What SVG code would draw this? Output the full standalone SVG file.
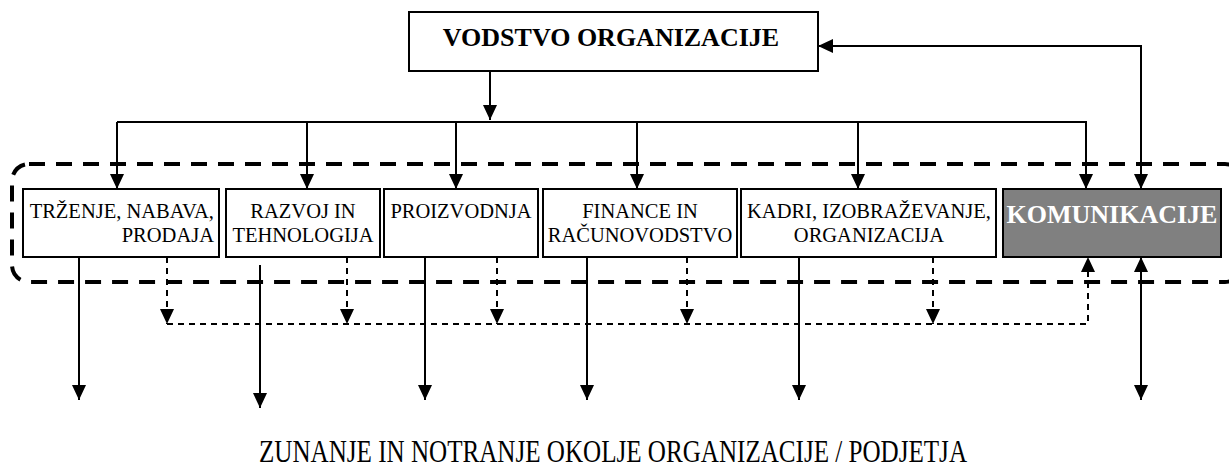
<svg xmlns="http://www.w3.org/2000/svg" width="1229" height="470" viewBox="0 0 1229 470">
<defs>
<marker id="ah" markerUnits="userSpaceOnUse" markerWidth="15" markerHeight="14" refX="15" refY="7" orient="auto-start-reverse" viewBox="0 0 15 14">
<path d="M0,0 L15,7 L0,14 z" fill="#000"/>
</marker>
<style>
.box{fill:#fff;stroke:#000;stroke-width:2}
.dark{fill:#808080;stroke:#000;stroke-width:2}
.t{font-size:20.5px;fill:#000}
.tb{font-size:26px;font-weight:bold}
.ln{fill:none;stroke:#000;stroke-width:2}
.dl{fill:none;stroke:#000;stroke-width:2;stroke-dasharray:6 5}
.frame{fill:none;stroke:#000;stroke-width:4;stroke-dasharray:16 11}
</style>
</defs>
<rect class="frame" x="12" y="164" width="1230" height="118" rx="17" ry="17"/>
<g id="vodstvo">
<rect class="box" x="409" y="12" width="409" height="59"/>
<text class="tb" font-family="'Liberation Serif', serif" x="611" y="46" text-anchor="middle" fill="#000">VODSTVO ORGANIZACIJE</text>
</g>
<g id="trzenje">
<rect class="box" x="23" y="189" width="196" height="68"/>
<text class="t" font-family="'Liberation Serif', serif" text-anchor="end"><tspan x="214" y="218">TRŽENJE, NABAVA,</tspan><tspan x="214" y="242">PRODAJA</tspan></text>
</g>
<g id="razvoj">
<rect class="box" x="226" y="189" width="154" height="68"/>
<text class="t" font-family="'Liberation Serif', serif" text-anchor="middle"><tspan x="303" y="218">RAZVOJ IN</tspan><tspan x="303" y="242">TEHNOLOGIJA</tspan></text>
</g>
<g id="proizvodnja">
<rect class="box" x="384" y="189" width="154" height="68"/>
<text class="t" font-family="'Liberation Serif', serif" x="461" y="218" text-anchor="middle">PROIZVODNJA</text>
</g>
<g id="finance">
<rect class="box" x="543" y="189" width="194" height="68"/>
<text class="t" font-family="'Liberation Serif', serif" text-anchor="middle"><tspan x="640" y="218">FINANCE IN</tspan><tspan x="640" y="242">RAČUNOVODSTVO</tspan></text>
</g>
<g id="kadri">
<rect class="box" x="741" y="189" width="255" height="68"/>
<text class="t" font-family="'Liberation Serif', serif" text-anchor="middle"><tspan x="869" y="218">KADRI, IZOBRAŽEVANJE,</tspan><tspan x="869" y="242">ORGANIZACIJA</tspan></text>
</g>
<g id="komunikacije">
<rect class="dark" x="1003" y="189" width="218" height="68"/>
<text class="tb" font-family="'Liberation Serif', serif" x="1112" y="223" text-anchor="middle" fill="#fff">KOMUNIKACIJE</text>
</g>
<g id="connectors">
<path class="ln" d="M490,71 V120" marker-end="url(#ah)"/>
<path class="ln" d="M117,122 H1086"/>
<path class="ln" d="M117,122 V189" marker-end="url(#ah)"/>
<path class="ln" d="M307,122 V189" marker-end="url(#ah)"/>
<path class="ln" d="M456,122 V189" marker-end="url(#ah)"/>
<path class="ln" d="M637,122 V189" marker-end="url(#ah)"/>
<path class="ln" d="M858,122 V189" marker-end="url(#ah)"/>
<path class="ln" d="M1086,121 V189" marker-end="url(#ah)"/>
<path class="ln" d="M1141,189 V46 H818" marker-start="url(#ah)" marker-end="url(#ah)"/>
<path class="ln" d="M79,257 V400" marker-end="url(#ah)"/>
<path class="ln" d="M260,265 V408" marker-end="url(#ah)"/>
<path class="ln" d="M425,257 V400" marker-end="url(#ah)"/>
<path class="ln" d="M587,257 V400" marker-end="url(#ah)"/>
<path class="ln" d="M799,257 V400" marker-end="url(#ah)"/>
<path class="ln" d="M1141,257 V400" marker-start="url(#ah)" marker-end="url(#ah)"/>
<path class="dl" d="M167,257 V324" marker-end="url(#ah)"/>
<path class="dl" d="M347,257 V324" marker-end="url(#ah)"/>
<path class="dl" d="M497,257 V324" marker-end="url(#ah)"/>
<path class="dl" d="M687,257 V324" marker-end="url(#ah)"/>
<path class="dl" d="M933,257 V324" marker-end="url(#ah)"/>
<path class="dl" d="M167,324 H1088 V257" marker-end="url(#ah)"/>
</g>
<text x="613" y="462" text-anchor="middle" textLength="708" lengthAdjust="spacingAndGlyphs" font-family="'Liberation Serif', serif" font-size="31" fill="#000">ZUNANJE IN NOTRANJE OKOLJE ORGANIZACIJE / PODJETJA</text>
</svg>
